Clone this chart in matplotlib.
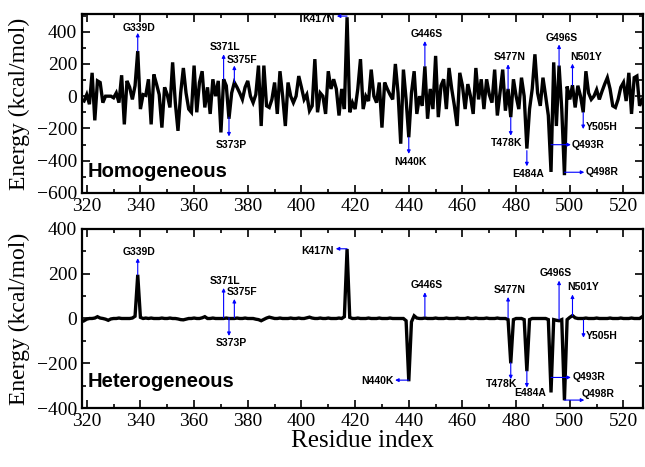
import matplotlib
matplotlib.use("Agg")
import matplotlib.pyplot as plt
from matplotlib.ticker import MultipleLocator

residues = list(range(319, 528))

homogeneous = [
    -30, 10, -50, 145, -150, 95, 85, -40, 0, 0,
    0, -10, 20, -40, 130, -175, 95, 55, -20, 65,
    280, -80, 10, 5, 105, -175, 135, 75, 10, -195,
    55, 10, -70, 210, -40, -215, 20, 175, 20, -80,
    -100, 190, -100, 85, 155, -70, 55, -110, 105, 0,
    95, -225, 105, 65, -140, 20, 85, 55, 20, -20,
    55, 95, 0, -40, 10, 190, -185, 190, -60, -70,
    -20, 85, -110, 155, 0, -185, 85, 0, -40, 0,
    125, 55, -20, 10, -90, -60, 230, -100, 20, 0,
    -110, 155, 45, 105, 45, -120, 45, -80, 490, -100,
    -40, -80, 45, 230, -80, 0, -30, 165, 0, -40,
    85, -195, 85, 45, 10, -20, 200, 20, -295, 165,
    -20, -255, 20, 155, -110, 0, -60, 185, -140, 45,
    -80, 250, -130, 65, 105, -80, 175, 45, -60, -185,
    145, 65, -80, 75, 0, -110, 175, -20, 105, -80,
    105, 10, -40, 165, -120, 20, 165, -90, 45, -130,
    105, 0, -80, 115, 0, -325, -80, 45, 260, 20,
    -60, 115, 0, -120, -470, 210, -185, 190, -80, -490,
    60, -20, 68, -70, 65, 0, -100, 155, 20, -20,
    0, 40, -20, 30, 75, 115, 45, -60, -70, -20,
    55, 85, -30, 145, -110, 115, 125, -60, -20,
]

heterogeneous = [
    -10, -3, 0, 0, 2, 8, 2, 0, -3, -8,
    -2, 0, 0, 2, 0, 0, 0, 0, 2, 10,
    195, 5, 0, 2, 0, 2, 0, 0, 0, 2,
    0, 0, 2, 0, 0, -2, -5, -6, -3, 0,
    0, 2, 0, 0, 3, 8, 0, 0, 2, 0,
    0, 0, 0, 2, 0, 0, 0, 2, 0, 0,
    2, 0, 0, 0, -3, -5, -10, -4, 2, 6,
    3, 0, 0, 2, 0, 0, 0, 2, 0, 0,
    2, 0, 0, 3, 6, 2, 0, 0, 2, 0,
    0, 2, 0, 0, 0, 2, 0, 8, 310, 5,
    0, 0, 2, 0, 0, 0, 2, 0, 0, 0,
    2, 0, 0, 0, 2, 0, 0, 0, 0, 0,
    -10, -280, -15, 12, 2, 0, 0, 2, 0, 0,
    0, 2, 0, 0, 0, 2, 0, 0, 0, 2,
    0, 0, 0, 3, 0, 0, 2, 0, 0, 0,
    2, 0, 0, 0, 2, 0, 0, 0, -5, -200,
    -5, 0, 0, 0, -5, -235, -5, 0, 0, 0,
    0, 0, 0, -5, -330, -5, -8, -10, -5, -365,
    -5, 5, 13, 3, 0, 0, 0, 2, 0, 0,
    0, 2, 0, 0, 0, 0, 2, 0, 0, 0,
    2, 0, 0, 0, 2, 0, 0, 0, 8,
]

panel_names = ["Homogeneous", "Heterogeneous"]

# annotations: label, arrow tail (x,y), arrow head (x,y), text (x,y), ha
top_annots = [
    ("G339D", (339, 280), (339, 393), (339.5, 424), "center"),
    ("S371L", (371, 105), (371, 260), (371.5, 305), "center"),
    ("S375F", (375, 85), (375, 190), (372.3, 222), "left"),
    ("S373P", (373, -130), (373, -250), (374, -300), "center"),
    ("K417N", (417, 497), (413.2, 497), (412.4, 482), "right"),
    ("N440K", (440, -255), (440, -358), (440.7, -410), "center"),
    ("G446S", (446, 187), (446, 342), (446.5, 387), "center"),
    ("S477N", (477, 43), (477, 198), (477.5, 243), "center"),
    ("T478K", (478, -132), (478, -245), (476.6, -292), "center"),
    ("E484A", (484, -338), (484, -435), (484.4, -482), "center"),
    ("G496S", (496, 187), (496, 321), (496.8, 363), "center"),
    ("N501Y", (501, 68), (501, 202), (500.3, 243), "left"),
    ("Y505H", (505, -101), (505, -204), (505.9, -194), "left"),
    ("Q493R", (493, -301), (500.4, -301), (500.7, -301), "left"),
    ("Q498R", (498, -472), (505.4, -472), (505.8, -472), "left"),
]
bottom_annots = [
    ("G339D", (339, 195), (339, 269), (339.5, 295), "center"),
    ("S371L", (371, 3), (371, 136), (371.5, 169), "center"),
    ("S375F", (375, 3), (375, 87), (372.3, 118), "left"),
    ("S373P", (373, 3), (373, -78), (374, -111), "center"),
    ("K417N", (417, 311), (412.8, 311), (412.2, 300), "right"),
    ("N440K", (440, -275), (434.9, -275), (434.3, -281), "right"),
    ("G446S", (446, 10), (446, 117), (446.5, 150), "center"),
    ("S477N", (477, 3), (477, 96), (477.5, 129), "center"),
    ("T478K", (478, -197), (478, -271), (474.4, -293), "center"),
    ("E484A", (484, -234), (484, -308), (485.4, -334), "center"),
    ("G496S", (496, -4), (496, 169), (494.6, 203), "center"),
    ("N501Y", (501, 13), (501, 107), (504.9, 139), "center"),
    ("Y505H", (505.1, -7), (505.1, -86), (505.8, -80), "left"),
    ("Q493R", (493, -263), (500.4, -263), (500.9, -263), "left"),
    ("Q498R", (498, -364), (505.4, -364), (504.3, -337), "left"),
]

fig = plt.figure(figsize=(6.45, 4.67), dpi=100)
ax1 = fig.add_axes([0.127, 0.587, 0.870, 0.383])
ax2 = fig.add_axes([0.127, 0.126, 0.870, 0.384])

serif = "Liberation Serif"
sans = "Liberation Sans"

configs = [
    (ax1, homogeneous, top_annots, (-600, 510), (-470, 0), panel_names[0]),
    (ax2, heterogeneous, bottom_annots, (-400, 400), (-280, 0), panel_names[1]),
]

for ax, vals, annots, ylim, lab_pos, name in configs:
    ax.plot(residues, vals, color="black", lw=2.4, solid_joinstyle="miter")
    ax.set_xlim(318.2, 527.3)
    ax.set_ylim(*ylim)
    ax.xaxis.set_major_locator(MultipleLocator(20))
    ax.xaxis.set_minor_locator(MultipleLocator(10))
    ax.yaxis.set_major_locator(MultipleLocator(200))
    ax.yaxis.set_minor_locator(MultipleLocator(100))
    ax.tick_params(which="both", direction="in", top=True, right=True,
                   width=1.2, labelsize=14)
    ax.tick_params(which="major", length=6)
    ax.tick_params(which="minor", length=3)
    for lbl in ax.get_xticklabels() + ax.get_yticklabels():
        lbl.set_fontfamily(serif)
    for sp in ax.spines.values():
        sp.set_linewidth(1.6)
    ax.set_ylabel("Energy (kcal/mol)", fontsize=17, family=serif)
    ax.yaxis.set_label_coords(-0.092, 0.5)
    ax.text(320.5, lab_pos[0], name, fontsize=14.5, fontweight="bold",
            family=sans, va="center", ha="left")
    for label, tail, head, tpos, ha in annots:
        ax.annotate("", xy=head, xytext=tail,
                    arrowprops=dict(arrowstyle="-|>", color="blue", lw=0.8,
                                    mutation_scale=5, shrinkA=0, shrinkB=0),
                    annotation_clip=False)
        ax.text(tpos[0], tpos[1], label, fontsize=7.5, fontweight="bold",
                family=sans, ha=ha, va="center", clip_on=False)

ax2.set_xlabel("Residue index", fontsize=18, family=serif, labelpad=0)

fig.savefig("out.png", dpi=100)
